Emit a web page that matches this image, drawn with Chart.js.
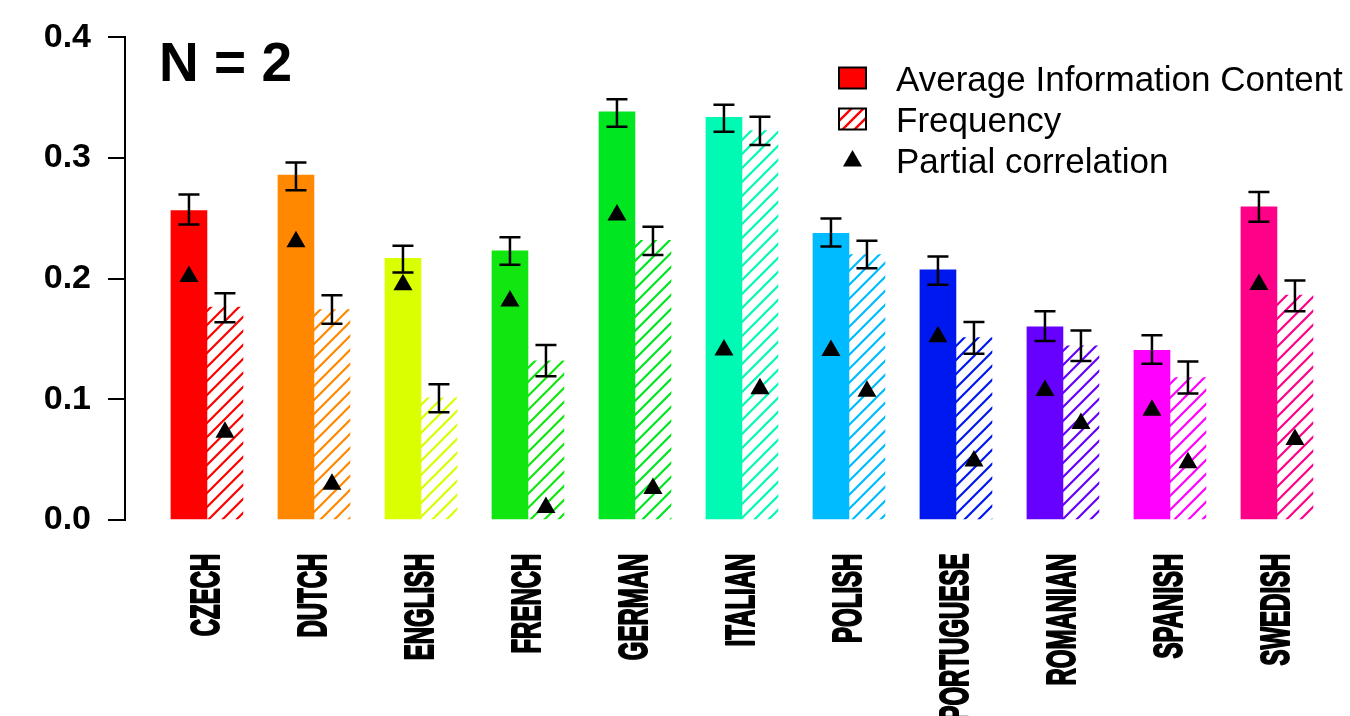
<!DOCTYPE html>
<html>
<head>
<meta charset="utf-8">
<script src="https://cdn.jsdelivr.net/npm/chart.js@4.4.0/dist/chart.umd.min.js"></script>
<style>
html,body{margin:0;padding:0;background:#ffffff;}
canvas{display:block;}
</style>
</head>
<body>
<canvas id="c" width="1350" height="716"></canvas>
<script>
// ---------- data ----------
const categories = ['CZECH','DUTCH','ENGLISH','FRENCH','GERMAN','ITALIAN','POLISH','PORTUGUESE','ROMANIAN','SPANISH','SWEDISH'];
const colors = ['#ff0000','#ff8800','#d9ff00','#11e611','#00e620','#00fab4','#00bbff','#0018f0','#6600ff','#ff00ff','#ff0088'];

const aic      = [0.2565, 0.2859, 0.2169, 0.2230, 0.3384, 0.3337, 0.2376, 0.2074, 0.1601, 0.1406, 0.2595];
const aicLow   = [0.2450, 0.2733, 0.2052, 0.2115, 0.3260, 0.3219, 0.2266, 0.1950, 0.1483, 0.1296, 0.2472];
const aicHigh  = [0.2697, 0.2963, 0.2274, 0.2343, 0.3488, 0.3441, 0.2499, 0.2183, 0.1730, 0.1532, 0.2719];

const freq     = [0.1765, 0.1745, 0.1013, 0.1320, 0.2318, 0.3227, 0.2199, 0.1512, 0.1443, 0.1180, 0.1865];
const freqLow  = [0.1640, 0.1626, 0.0893, 0.1192, 0.2197, 0.3109, 0.2087, 0.1378, 0.1318, 0.1049, 0.1730];
const freqHigh = [0.1880, 0.1862, 0.1126, 0.1450, 0.2430, 0.3343, 0.2315, 0.1642, 0.1571, 0.1313, 0.1986];

const partialAic  = [0.2019, 0.2307, 0.1950, 0.1815, 0.2529, 0.1409, 0.1405, 0.1519, 0.1074, 0.0909, 0.1952];
const partialFreq = [0.0728, 0.0297, null,   0.0104, 0.0261, 0.1088, 0.1068, 0.0489, 0.0799, 0.0475, 0.0667];

const yTicks = [0, 0.1, 0.2, 0.3, 0.4];
const legendLabels = ['Average Information Content', 'Frequency', 'Partial correlation'];
const panelTitle = 'N = 2';

// ---------- helpers ----------
const FONT = "'Liberation Sans', Arial, Helvetica, sans-serif";

function hatch(color, step, lw) {
  const c = document.createElement('canvas');
  c.width = step; c.height = step;
  const g = c.getContext('2d');
  g.strokeStyle = color;
  g.lineWidth = lw;
  g.beginPath();
  g.moveTo(-1, 1); g.lineTo(1, -1);
  g.moveTo(-1, step + 1); g.lineTo(step + 1, -1);
  g.moveTo(step - 1, step + 1); g.lineTo(step + 1, step - 1);
  g.stroke();
  return g.createPattern(c, 'repeat');
}

function tri(ctx, x, y, r) {
  ctx.beginPath();
  ctx.moveTo(x, y - r);
  ctx.lineTo(x + r * Math.sqrt(3) / 2, y + r / 2);
  ctx.lineTo(x - r * Math.sqrt(3) / 2, y + r / 2);
  ctx.closePath();
  ctx.fill();
}

const overlay = {
  id: 'overlay',
  afterDatasetsDraw(chart) {
    const ctx = chart.ctx, ys = chart.scales.y;
    const sets = [[aicLow, aicHigh, partialAic], [freqLow, freqHigh, partialFreq]];
    ctx.save();
    ctx.strokeStyle = '#000';
    ctx.lineWidth = 2.5;
    sets.forEach((s, d) => {
      chart.getDatasetMeta(d).data.forEach((bar, i) => {
        const x = bar.x, y1 = ys.getPixelForValue(s[0][i]), y2 = ys.getPixelForValue(s[1][i]);
        ctx.beginPath();
        ctx.moveTo(x, y1); ctx.lineTo(x, y2);
        ctx.moveTo(x - 10.5, y1); ctx.lineTo(x + 10.5, y1);
        ctx.moveTo(x - 10.5, y2); ctx.lineTo(x + 10.5, y2);
        ctx.stroke();
      });
    });
    ctx.fillStyle = '#000';
    sets.forEach((s, d) => {
      chart.getDatasetMeta(d).data.forEach((bar, i) => {
        const v = s[2][i];
        if (v === null || v === undefined) return;
        tri(ctx, bar.x, ys.getPixelForValue(v), 11);
      });
    });
    ctx.restore();
  },
  afterDraw(chart) {
    const ctx = chart.ctx, xs = chart.scales.x;
    ctx.save();
    ctx.fillStyle = '#000';
    ctx.strokeStyle = '#000';
    // category labels (rotated, condensed)
    ctx.font = 'bold 40px ' + FONT;
    categories.forEach((c, i) => {
      const px = xs.getPixelForValue(i) - 2;
      ctx.save();
      ctx.translate(px, 553);
      ctx.rotate(-Math.PI / 2);
      ctx.scale(0.6, 1);
      ctx.textAlign = 'right';
      ctx.textBaseline = 'alphabetic';
      ctx.lineWidth = 2;
      ctx.lineJoin = 'round';
      ctx.fillText(c, -1, 14.5);
      ctx.strokeText(c, -1, 14.5);
      ctx.restore();
    });
    // panel title
    ctx.font = 'bold 55px ' + FONT;
    ctx.textAlign = 'left';
    ctx.textBaseline = 'alphabetic';
    ctx.fillText(panelTitle, 159, 81);
    // legend
    const bx = 839, bw = 27, bh = 21;
    const rows = [78, 119, 160];
    ctx.lineWidth = 2;
    // solid box
    ctx.fillStyle = colors[0];
    ctx.fillRect(bx, rows[0] - bh / 2, bw, bh);
    ctx.strokeRect(bx, rows[0] - bh / 2, bw, bh);
    // hatched box
    ctx.fillStyle = '#fff';
    ctx.fillRect(bx, rows[1] - bh / 2, bw, bh);
    ctx.fillStyle = hatch(colors[0], 12, 2.4);
    ctx.fillRect(bx, rows[1] - bh / 2, bw, bh);
    ctx.strokeRect(bx, rows[1] - bh / 2, bw, bh);
    // triangle
    ctx.fillStyle = '#000';
    tri(ctx, bx + bw / 2, rows[2] + 1, 11);
    ctx.font = '35px ' + FONT;
    legendLabels.forEach((t, k) => ctx.fillText(t, 896, rows[k] + 12.5));
    ctx.restore();
  }
};

new Chart(document.getElementById('c'), {
  type: 'bar',
  data: {
    datasets: [
      { label: legendLabels[0], data: aic.map((v, i) => ({x: i, y: v})), backgroundColor: colors,
        borderWidth: 0, barThickness: 36 },
      { label: legendLabels[1], data: freq.map((v, i) => ({x: i, y: v})), backgroundColor: colors.map(c => hatch(c, 14, 2.2)),
        borderWidth: 0, barThickness: 36 }
    ]
  },
  options: {
    responsive: false,
    animation: false,
    devicePixelRatio: 1,
    layout: { padding: { top: 34, bottom: 196, left: 0, right: 5 } },
    plugins: { legend: { display: false }, tooltip: { enabled: false } },
    scales: {
      x: { type: 'linear', display: false, min: -0.766, max: 10.636, offset: false },
      y: {
        min: 0, max: 0.4,
        afterFit(s) { s.width = 125; },
        afterBuildTicks(s) { s.ticks = yTicks.map(v => ({ value: v })); },
        ticks: { font: { size: 34, weight: 'bold', family: FONT }, color: '#000', padding: 17,
                 callback: v => Number(v).toFixed(1) },
        grid: { drawOnChartArea: false, drawTicks: true, tickLength: 17, color: '#000', lineWidth: 2 },
        border: { display: true, color: '#000', width: 2 }
      }
    }
  },
  plugins: [overlay]
});
</script>
</body>
</html>
